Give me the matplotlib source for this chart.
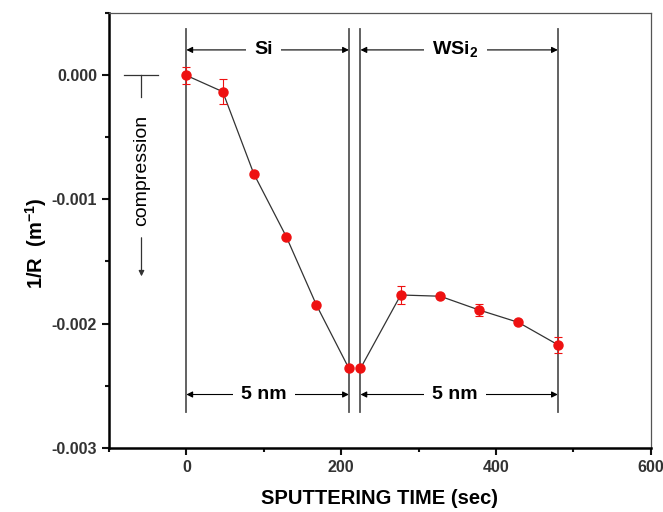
import numpy as np
import matplotlib
matplotlib.use("Agg")
import matplotlib.pyplot as plt
from matplotlib.ticker import MultipleLocator

plt.rcParams['font.family'] = ['Liberation Sans', 'DejaVu Sans']

# sputtering time (sec) and curvature 1/R (m^-1)
time_si = [0, 47, 87, 129, 168, 210]
inv_r_si = [-0.000005, -0.000136, -0.000794, -0.0013, -0.00185, -0.00236]
err_si = [0.000066, 0.0001, 0.0, 0.0, 0.0, 0.0]

time_wsi = [225, 277, 328, 378, 429, 480]
inv_r_wsi = [-0.00236, -0.00177, -0.00178, -0.00189, -0.00199, -0.00217]
err_wsi = [0.0, 0.000073, 0.0, 0.000045, 0.0, 0.000063]

# layer boundaries (sec)
boundaries = [0, 210, 225, 480]

fig = plt.figure(figsize=(6.63, 5.12), dpi=100)
ax = fig.add_axes([0.1644, 0.125, 0.817, 0.8504])

for b in boundaries:
    ax.plot([b, b], [0.00037, -0.00271], color="#555555", lw=1.3, zorder=1)

for xs, ys, es in [(time_si, inv_r_si, err_si), (time_wsi, inv_r_wsi, err_wsi)]:
    ax.plot(xs, ys, color="#333333", lw=0.9, zorder=2)
    ax.errorbar(xs, ys, yerr=es, fmt="o", color="#ee1111", ms=6.5,
                elinewidth=0.8, capsize=3, capthick=0.8, zorder=3)


def span(x0, x1, y, label):
    ax.annotate("", xy=(x0, y), xytext=(x1, y),
                arrowprops=dict(arrowstyle="<|-|>", color="black", lw=0.8,
                                mutation_scale=9, shrinkA=0, shrinkB=0))
    ax.text((x0 + x1) / 2 - 5, y, label, ha="center", va="center",
            fontsize=14, fontweight="bold",
            bbox=dict(facecolor="white", edgecolor="none", pad=6))


span(boundaries[0], boundaries[1], 0.0002, "Si")
span(boundaries[2], boundaries[3], 0.0002, "WSi$_\\mathregular{2}$")
span(boundaries[0], boundaries[1], -0.00257, "5 nm")
span(boundaries[2], boundaries[3], -0.00257, "5 nm")

# compression indicator
ax.plot([-80, -37], [0, 0], color="#333333", lw=0.9, clip_on=False)
ax.plot([-58, -58], [0, -0.00018], color="#333333", lw=0.9)
ax.text(-58, -0.00077, "compression", rotation=90, ha="center", va="center",
        fontsize=14)
ax.annotate("", xy=(-58, -0.00162), xytext=(-58, -0.00131),
            arrowprops=dict(arrowstyle="-|>", color="#333333", lw=0.9,
                            mutation_scale=8, shrinkA=0, shrinkB=0))

ax.set_xlim(-100, 600)
ax.set_ylim(-0.003, 0.0005)
ax.xaxis.set_major_locator(MultipleLocator(200))
ax.xaxis.set_minor_locator(MultipleLocator(100))
ax.yaxis.set_major_locator(MultipleLocator(0.001))
ax.yaxis.set_minor_locator(MultipleLocator(0.0005))
ax.set_yticks([0.0, -0.001, -0.002, -0.003])
ax.set_yticklabels(["0.000", "-0.001", "-0.002", "-0.003"])
ax.tick_params(which="both", direction="out", width=1.5, colors="#111111",
               labelsize=11.5, top=False, right=False)
ax.tick_params(which="major", length=5)
ax.tick_params(which="minor", length=3)
for lab in ax.get_xticklabels() + ax.get_yticklabels():
    lab.set_fontweight("bold")
    lab.set_color("#333333")

for side in ["left", "bottom"]:
    ax.spines[side].set_linewidth(1.8)
for side in ["top", "right"]:
    ax.spines[side].set_linewidth(0.9)
    ax.spines[side].set_color("#555555")

ax.set_xlabel("SPUTTERING TIME (sec)", fontsize=14.5, fontweight="bold",
              labelpad=10)
ax.set_ylabel("1/R  (m$^{\\mathregular{-1}}$)", fontsize=14.5, fontweight="bold",
              labelpad=8)
ax.yaxis.set_label_coords(-0.11, 0.47)

fig.savefig("out.png", dpi=100)
